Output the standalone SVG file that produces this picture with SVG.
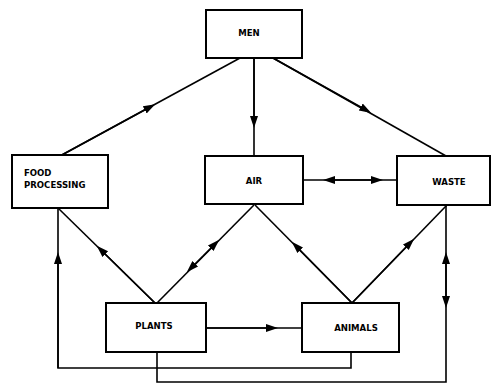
<svg xmlns="http://www.w3.org/2000/svg" width="493" height="387" viewBox="0 0 493 387">
<defs>
<marker id="ah" viewBox="0 0 12 10" refX="6" refY="5" markerWidth="12" markerHeight="10" markerUnits="userSpaceOnUse" orient="auto">
<path d="M0,1 L12,5 L0,9 Z" fill="#000"/>
</marker>
</defs>
<style>
.box{fill:#fff;stroke:#000;stroke-width:2}
.ln{fill:none;stroke:#000;stroke-width:1.6}
.t{font-family:"DejaVu Sans Condensed","Liberation Sans Narrow","Liberation Sans",sans-serif;font-size:9.5px;font-weight:bold;fill:#000}
.c{text-anchor:middle}
</style>
<rect width="493" height="387" fill="#fff"/>
<g id="connectors">
<line class="ln" x1="240" y1="58" x2="60" y2="156"/>
<path class="ln" d="M60,156 L150,107" marker-end="url(#ah)"/>
<line class="ln" x1="273" y1="58" x2="446" y2="156"/>
<path class="ln" d="M273,58 L366,110" marker-end="url(#ah)"/>
<line class="ln" x1="254" y1="58" x2="254" y2="156"/>
<path class="ln" d="M254,58 L254,122" marker-end="url(#ah)"/>
<line class="ln" x1="303" y1="180" x2="397" y2="180"/>
<path class="ln" d="M350,180 L329,180" marker-end="url(#ah)"/>
<path class="ln" d="M350,180 L377,180" marker-end="url(#ah)"/>
<line class="ln" x1="155" y1="303" x2="58" y2="208"/>
<path class="ln" d="M155,303 L101,250" marker-end="url(#ah)"/>
<line class="ln" x1="157" y1="303" x2="254" y2="205"/>
<path class="ln" d="M203,256 L215,244" marker-end="url(#ah)"/>
<path class="ln" d="M203,256 L191,268" marker-end="url(#ah)"/>
<line class="ln" x1="352" y1="303" x2="255" y2="205"/>
<path class="ln" d="M352,303 L296,246" marker-end="url(#ah)"/>
<line class="ln" x1="352" y1="303" x2="447" y2="205"/>
<path class="ln" d="M352,303 L410,243" marker-end="url(#ah)"/>
<line class="ln" x1="206" y1="328" x2="302" y2="328"/>
<path class="ln" d="M206,328 L272,328" marker-end="url(#ah)"/>
<path class="ln" d="M58,208 L58,368 L351,368 L351,352"/>
<path class="ln" d="M58,368 L58,258" marker-end="url(#ah)"/>
<path class="ln" d="M157,352 L157,382 L446,382 L446,205"/>
<path class="ln" d="M446,280 L446,258" marker-end="url(#ah)"/>
<path class="ln" d="M446,280 L446,302" marker-end="url(#ah)"/>
</g>
<g id="men">
<rect class="box" x="206" y="10" width="96" height="48"/>
<text class="t c" x="249" y="36">MEN</text>
</g>
<g id="food">
<rect class="box" x="12" y="155" width="96" height="53"/>
<text class="t" x="24" y="176">FOOD</text>
<text class="t" x="24" y="188">PROCESSING</text>
</g>
<g id="air">
<rect class="box" x="205" y="156" width="98" height="48"/>
<text class="t c" x="254" y="184">AIR</text>
</g>
<g id="waste">
<rect class="box" x="397" y="156" width="93" height="49"/>
<text class="t c" x="449" y="185">WASTE</text>
</g>
<g id="plants">
<rect class="box" x="106" y="303" width="100" height="49"/>
<text class="t c" x="154" y="329">PLANTS</text>
</g>
<g id="animals">
<rect class="box" x="302" y="303" width="97" height="49"/>
<text class="t c" x="356" y="331">ANIMALS</text>
</g>
</svg>
